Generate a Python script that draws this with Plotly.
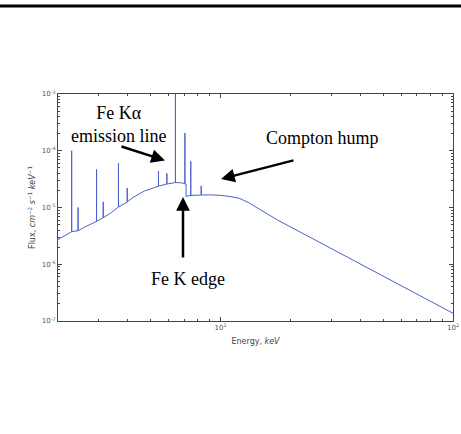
import plotly.graph_objects as go

# ---- data ----
cont_energy = [2.0, 2.6, 3.4, 4.2, 4.7, 5.0, 6.0, 6.8, 7.11, 7.11, 8.0, 9.0, 10.0,
               11.0, 12.1, 13.3, 14.7, 16.0, 17.6, 25.0, 40.0, 60.0, 100.0]
cont_flux = [2.72e-6, 4.5e-6, 8.2e-6, 1.5e-5, 1.95e-5, 2.12e-5, 2.63e-5, 2.72e-5, 2.58e-5, 1.57e-5,
             1.65e-5, 1.67e-5, 1.64e-5, 1.56e-5, 1.44e-5, 1.2e-5, 9.4e-6, 7.5e-6, 6.0e-6,
             2.8e-6, 1.0e-6, 4.2e-7, 1.37e-7]

line_energy = [2.29, 2.44, 2.93, 3.13, 3.64, 3.97, 5.41, 5.88, 6.40, 7.03, 7.45, 8.26]
line_peak = [1.0e-4, 1.0e-5, 4.7e-5, 1.26e-5, 6.0e-5, 2.2e-5, 4.4e-5, 4.0e-5, 1.5e-3, 2.05e-4, 6.5e-5, 2.4e-5]
line_base = [3.75e-6, 3.9e-6, 5.7e-6, 6.6e-6, 1.02e-5, 1.25e-5, 2.38e-5, 2.59e-5, 2.75e-5, 2.62e-5, 1.63e-5, 1.66e-5]

y_tickvals = [1e-7, 1e-6, 1e-5, 1e-4, 1e-3]
y_ticktext = ["10<sup>-7</sup>", "10<sup>-6</sup>", "10<sup>-5</sup>", "10<sup>-4</sup>", "10<sup>-3</sup>"]
x_tickvals = [10, 100]
x_ticktext = ["10<sup>1</sup>", "10<sup>2</sup>"]

# ---- build spectrum: continuum + vertical line spikes ----
pts = [(e, f) for e, f in zip(cont_energy, cont_flux)]
for e, p, b in zip(line_energy, line_peak, line_base):
    pts += [(e, b), (e, p), (e, b)]
pts = sorted(pts, key=lambda t: t[0])  # stable sort keeps spike order
xs = [p[0] for p in pts]
ys = [p[1] for p in pts]

fig = go.Figure()
fig.add_trace(go.Scatter(x=xs, y=ys, mode="lines",
                         line=dict(color="#4a62c8", width=1), showlegend=False,
                         hoverinfo="skip"))

W, H = 461, 434
L, R, T, B = 58, 8, 94, 113
pw, ph = W - L - R, H - T - B

def px(x):
    return (x - L) / pw

def py(y):
    return (H - B - y) / ph

axis_common = dict(type="log", showgrid=False, zeroline=False, showline=True,
                   linecolor="#444", linewidth=1, mirror="allticks", ticks="inside",
                   ticklen=4, tickcolor="#444",
                   tickfont=dict(family="DejaVu Sans", size=7, color="#555"))

minor_x = [v * d for d in (1, 10) for v in range(2, 10)]
minor_y = [v * d for d in (1e-7, 1e-6, 1e-5, 1e-4) for v in range(2, 10)]

fig.update_xaxes(**axis_common, range=[0.30103, 2.0], tickvals=x_tickvals, ticktext=x_ticktext,
                 minor=dict(tickvals=minor_x, ticks="inside", ticklen=2, tickcolor="#444"),
                 title=dict(text="Energy, <i>keV</i>", standoff=6,
                            font=dict(family="DejaVu Sans", size=8, color="#444")))
fig.update_yaxes(**axis_common, range=[-7, -3], tickvals=y_tickvals, ticktext=y_ticktext,
                 minor=dict(tickvals=minor_y, ticks="inside", ticklen=2, tickcolor="#444"),
                 title=dict(text="Flux, <i>cm</i><sup>−2</sup> <i>s</i><sup>−1</sup> <i>keV</i><sup>−1</sup>",
                            standoff=4, font=dict(family="DejaVu Sans", size=8, color="#444")))

serif = dict(family="Liberation Serif", size=18, color="black")
annotations = [
    dict(text="Fe Kα<br>emission line", x=px(119), y=py(124), xref="paper", yref="paper",
         showarrow=False, font=serif, xanchor="center", yanchor="middle"),
    dict(text="Compton hump", x=px(322), y=py(138), xref="paper", yref="paper",
         showarrow=False, font=serif, xanchor="center", yanchor="middle"),
    dict(text="Fe K edge", x=px(188), y=py(279), xref="paper", yref="paper",
         showarrow=False, font=serif, xanchor="center", yanchor="middle"),
]
arrows = [((165, 160.5), (120, 146)), ((221, 179), (295, 160)), ((183, 197), (183, 259))]
for (tx, ty), (sx, sy) in arrows:
    annotations.append(dict(text="", x=px(tx), y=py(ty), xref="paper", yref="paper",
                            ax=sx - tx, ay=sy - ty, showarrow=True, arrowhead=2,
                            arrowsize=1.1, arrowwidth=2.5, arrowcolor="black",
                            standoff=0, startstandoff=0))

fig.update_layout(width=W, height=H, margin=dict(l=L, r=R, t=T, b=B, autoexpand=False),
                  paper_bgcolor="white", plot_bgcolor="white",
                  annotations=annotations,
                  shapes=[dict(type="line", xref="paper", yref="paper",
                               x0=px(0), x1=px(W), y0=py(6), y1=py(6),
                               line=dict(color="black", width=3))])

fig.write_html("out.html", config={"displayModeBar": False},
               post_script="document.body.style.margin='0px';")
